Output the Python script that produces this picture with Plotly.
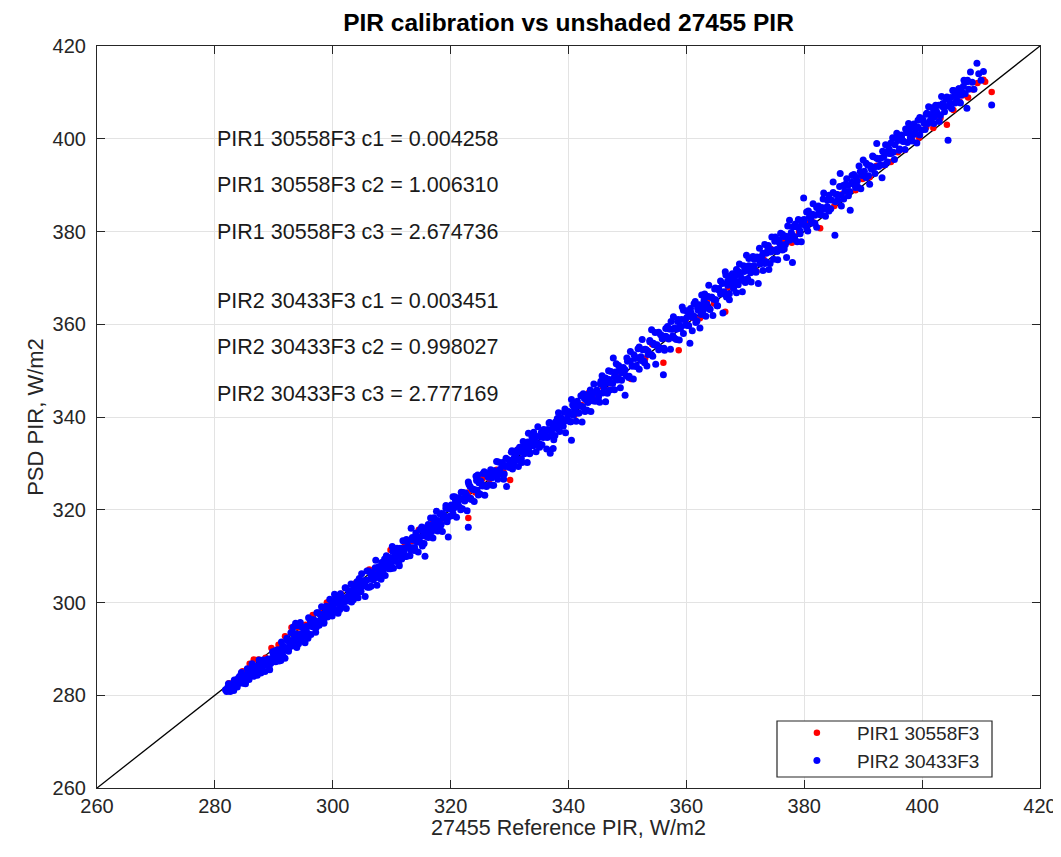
import plotly.graph_objects as go

# ---------------- data ----------------
# PIR2 30433F3 (blue): reference PIR (x) vs PSD PIR (y), W/m2 -- outer spread
pir2_ref = [
    281.8, 282.0, 282.3, 282.5, 282.8, 283.0, 283.3, 283.5, 283.8, 284.0,
    284.3, 284.5, 284.8, 285.0, 285.3, 285.5, 285.8, 286.0, 286.3, 286.5,
    286.8, 287.0, 287.3, 287.5, 287.8, 288.0, 288.3, 288.5, 288.8, 289.0,
    289.3, 289.5, 289.8, 290.0, 290.3,
    290.5, 290.7, 290.9, 291.1, 291.3, 291.5, 291.7, 291.9, 292.1, 292.3,
    292.5, 292.7, 292.9, 293.1, 293.3, 293.5, 293.7, 293.9, 294.1, 294.3,
    294.5, 294.7, 294.9, 295.1, 295.3, 295.5, 295.7, 295.9, 296.1, 296.3,
    296.5, 296.7, 296.9, 297.1, 297.3, 297.5, 297.7, 297.9, 298.1, 298.3,
    298.5, 298.7, 298.9, 299.1, 299.3, 299.5, 299.7, 299.9,
    300.1, 300.3, 300.5, 300.7, 300.9, 301.1, 301.3, 301.5, 301.7, 301.9,
    302.1, 302.3, 302.5, 302.7, 302.9, 303.1, 303.3, 303.5, 303.7, 303.9,
    304.1, 304.3, 304.5, 304.7, 304.9, 305.1, 305.3, 305.5, 305.7, 305.9,
    306.1, 306.3, 306.5, 306.7, 306.9, 307.1, 307.3, 307.5, 307.7, 307.9,
    308.1, 308.3, 308.5, 308.7, 308.9, 309.1, 309.3, 309.5, 309.7, 309.9,
    310.1, 310.3, 310.5, 310.7, 310.9, 311.1, 311.3, 311.5, 311.7, 311.9,
    312.1, 312.3, 312.5, 312.7, 312.9, 313.1, 313.3, 313.5, 313.7, 313.9,
    314.1, 314.3, 314.5, 314.7, 314.9, 315.1, 315.3, 315.5, 315.65, 315.8,
    316.0, 316.2, 316.4, 316.6, 316.8, 317.0, 317.2, 317.4, 317.6, 317.8,
    318.0, 318.2, 318.4, 318.6, 318.8, 319.0, 319.2, 319.4, 319.6, 319.8,
    320.0, 320.2, 320.4, 320.6, 320.8, 321.0, 321.3, 321.5, 321.8, 322.0,
    322.3, 322.5, 322.8, 323.0, 323.3, 323.5, 323.8, 324.0, 324.3, 324.5,
    324.8, 325.0, 325.3, 325.5, 325.8, 326.0, 326.3, 326.5, 326.8, 327.0,
    327.3, 327.5, 327.8, 328.0, 328.3, 328.5, 328.8, 329.0, 329.3, 329.5,
    329.8, 330.0, 330.3, 330.5, 330.8, 331.0, 331.3, 331.5, 331.8, 332.0,
    332.3, 332.5, 332.8, 333.0, 333.3, 333.5, 333.8, 334.0, 334.3, 334.5,
    334.8, 335.0, 335.3, 335.5, 335.8, 336.0, 336.3, 336.5, 336.8, 337.0,
    337.3, 337.5, 337.8, 338.0, 338.3, 338.5, 338.8, 339.0, 339.3, 339.5,
    339.8, 340.0, 340.3, 340.5, 340.8, 341.0, 341.3, 341.5, 341.8, 342.0,
    342.3, 342.5, 342.8, 343.0, 343.3, 343.5, 343.8, 344.0, 344.3, 344.5,
    344.8, 340.5, 336.9, 323.0, 324.6, 323.0, 319.6, 333.2, 337.4,
    345.0, 345.3, 345.5, 345.8, 346.0, 346.3, 346.5, 346.8, 347.0, 347.3,
    347.6, 347.8, 348.0, 348.3, 348.5, 348.8, 349.0, 349.3, 349.6, 349.8,
    350.0, 350.3, 350.5, 350.8, 351.0, 351.3, 351.5, 351.8, 352.0, 352.3,
    352.5, 352.8, 353.0, 353.3, 353.5, 353.8, 354.1, 354.3, 354.5, 354.8,
    355.0, 355.3, 355.5, 355.8, 356.1, 356.3, 356.5, 356.8, 357.0, 357.3,
    357.5, 357.8, 358.0, 358.3, 358.5, 358.8, 359.0, 359.3, 359.5, 359.8,
    360.0, 360.3, 360.6, 360.8, 361.0, 361.3, 361.5, 361.8, 362.0, 362.3,
    362.6, 362.8, 363.0, 363.3, 363.5, 363.8, 364.0, 364.3, 364.5, 364.8,
    365.0, 365.3, 365.5, 365.8, 366.2, 366.4, 366.6, 366.8, 367.0, 367.3,
    367.5, 367.8, 368.0, 368.3, 368.5, 368.8, 369.0, 369.3, 369.5, 369.8,
    370.2, 370.4, 370.6, 370.8, 371.0, 371.3, 371.5, 371.8, 372.0, 372.2,
    372.5, 372.8, 373.0, 373.3, 373.5, 373.8, 374.0, 374.3, 374.5, 374.8,
    375.0, 375.3, 375.5, 375.8, 376.0, 376.3, 376.5, 376.8, 377.0, 377.3,
    377.5, 377.8, 378.0, 378.3, 378.5, 378.8, 379.0, 379.3, 379.5, 379.8,
    379.9,
    380.1, 380.4, 380.6, 380.9, 381.2, 381.5, 381.8, 382.1, 382.4, 382.7,
    383.0, 383.3, 383.6, 383.9, 384.2, 384.5, 384.9, 385.2, 385.4, 385.7,
    386.1, 386.3, 386.6, 386.9, 387.2, 387.5, 387.8, 388.1, 388.4, 388.7,
    389.0, 389.3, 389.6, 390.0, 390.2, 390.5, 390.8, 391.1, 391.4, 391.7,
    392.0, 392.3, 392.6, 392.9, 393.2, 393.5, 393.8, 394.1, 394.4, 394.7,
    395.0, 395.3, 395.7, 395.9, 396.2, 396.5, 396.8, 397.1, 397.4, 397.7,
    398.0, 398.3, 398.6, 399.1, 399.3, 399.6, 399.9, 400.2, 400.5, 400.8,
    401.1, 401.4, 401.7, 402.0, 402.3, 402.6, 402.9, 403.3, 403.5, 403.8,
    404.1, 404.4, 404.7, 405.0, 405.3, 405.6, 405.9, 406.2, 406.5, 406.8,
    407.1, 407.6, 407.6, 407.9, 408.2, 408.5, 408.8, 409.3, 409.6, 410.0,
    410.4, 411.8,
]
pir2_psd = [
    281.2, 280.8, 282.5, 281.0, 282.4, 281.2, 283.3, 282.5, 281.8, 283.7,
    283.0, 284.9, 282.6, 284.2, 283.7, 285.7, 283.4, 284.9, 286.8, 284.6,
    286.3, 284.4, 285.9, 287.6, 284.8, 286.0, 287.5, 285.1, 286.5, 287.8,
    285.5, 286.9, 289.4, 288.2, 287.2,
    288.3, 289.8, 287.4, 289.6, 291.5, 288.7, 290.5, 288.0, 290.1, 291.8,
    289.5, 291.1, 293.5, 290.6, 294.7, 292.7, 295.5, 290.3, 295.0, 292.4,
    295.7, 291.9, 294.6, 293.6, 291.3, 294.8, 293.4, 296.7, 294.9, 293.1,
    296.3, 294.7, 295.9, 293.6, 297.8, 295.9, 295.1, 297.3, 299.1, 296.5,
    295.5, 297.8, 299.2, 296.9, 298.0, 300.7, 299.2, 297.1,
    299.1, 301.8, 298.4, 300.4, 297.7, 299.7, 301.9, 299.0, 300.9, 300.0,
    303.2, 298.7, 301.3, 302.6, 300.6, 304.0, 301.7, 300.6, 303.1, 302.1,
    304.5, 301.0, 303.5, 302.3, 306.2, 304.7, 303.6, 301.3, 304.8, 303.3,
    306.8, 305.0, 303.5, 306.5, 304.9, 306.0, 309.1, 303.7, 306.2, 307.4,
    305.4, 308.6, 306.6, 307.9, 305.8, 310.1, 308.1, 307.3, 309.7, 308.3,
    312.1, 307.4, 309.8, 308.9, 311.7, 310.0, 307.9, 311.2, 309.4, 313.3,
    310.7, 311.8, 309.9, 313.2, 311.9, 310.1, 316.0, 311.8, 313.5, 311.8,
    315.0, 313.0, 310.9, 314.1, 313.0, 316.3, 314.4, 312.7, 310.0, 314.4,
    316.3, 314.0, 315.7, 318.2, 315.3, 313.9, 317.1, 316.4, 319.7, 315.4,
    317.6, 319.1, 316.8, 315.3, 319.0, 318.1, 320.9, 317.4, 320.2, 318.6,
    320.8, 318.7, 322.8, 320.4, 322.1, 318.4, 321.7, 320.6, 323.8, 320.2,
    322.4, 323.6, 319.8, 322.5, 325.0, 322.2, 324.4, 321.8, 327.2, 324.2,
    325.8, 323.4, 325.5, 327.8, 323.1, 325.2, 327.2, 325.4, 328.6, 326.9,
    325.3, 328.0, 330.4, 326.6, 328.6, 327.9, 330.2, 326.6, 329.3, 325.0,
    330.8, 329.1, 332.4, 328.8, 331.2, 330.7, 332.9, 329.3, 332.5, 331.0,
    334.7, 332.1, 334.0, 330.2, 333.4, 332.3, 335.7, 333.8, 335.2, 332.5,
    337.9, 334.3, 335.8, 334.0, 337.3, 335.9, 333.1, 337.3, 338.8, 335.9,
    337.6, 335.1, 338.9, 337.5, 340.9, 336.9, 339.4, 338.2, 341.0, 336.6,
    339.8, 341.2, 339.0, 343.8, 340.4, 341.9, 339.1, 343.4, 340.9, 342.4,
    338.9, 345.0, 341.2, 343.7, 343.1, 345.0, 341.2, 344.2, 347.1, 343.4,
    345.8, 335.0, 332.2, 326.0, 327.5, 316.2, 314.1, 336.5, 333.2,
    345.3, 343.2, 347.7, 345.2, 347.4, 343.3, 347.3, 350.0, 345.8, 347.4,
    352.7, 345.9, 349.7, 348.0, 351.1, 346.3, 349.5, 350.3, 344.7, 348.9,
    352.0, 348.8, 354.1, 351.0, 348.2, 352.6, 351.1, 354.7, 350.3, 353.0,
    356.7, 352.0, 354.6, 351.0, 353.5, 356.2, 358.8, 353.1, 355.6, 351.4,
    355.4, 358.3, 354.9, 357.6, 349.1, 354.4, 357.4, 359.5, 356.8, 354.6,
    358.9, 361.6, 357.0, 358.9, 360.6, 356.6, 359.1, 363.7, 358.0, 361.0,
    362.9, 359.8, 355.9, 362.5, 358.6, 361.7, 364.9, 360.7, 363.0, 359.2,
    366.3, 362.8, 365.2, 361.7, 364.3, 368.4, 363.3, 365.8, 361.9, 367.6,
    365.3, 364.0, 367.4, 369.3, 362.4, 367.0, 371.3, 365.9, 369.3, 365.3,
    368.7, 370.9, 367.7, 369.2, 366.8, 371.4, 373.0, 369.5, 367.0, 371.4,
    374.9, 369.8, 372.6, 371.5, 369.1, 374.6, 372.6, 371.4, 374.5, 368.8,
    373.0, 374.6, 371.6, 377.2, 373.5, 376.0, 371.8, 375.6, 378.8, 374.0,
    377.9, 376.1, 373.9, 377.5, 379.6, 376.0, 378.9, 377.2, 374.4, 378.3,
    382.4, 379.8, 373.3, 378.9, 381.6, 377.8, 380.9, 379.5, 377.8, 382.5,
    387.2,
    381.4, 384.2, 380.1, 383.3, 381.8, 386.0, 383.5, 380.9, 385.5, 383.6,
    385.2, 388.3, 383.3, 385.4, 387.8, 384.9, 390.7, 379.2, 388.0, 386.7,
    392.5, 385.5, 389.9, 388.7, 391.4, 387.7, 384.6, 390.6, 392.3, 389.5,
    390.9, 394.1, 389.2, 395.4, 393.0, 391.6, 394.3, 390.2, 393.4, 396.1,
    392.5, 399.0, 395.6, 394.3, 391.6, 396.1, 398.7, 395.0, 397.8, 396.8,
    400.2, 395.5, 401.2, 399.6, 397.8, 400.8, 399.5, 397.7, 401.3, 403.3,
    400.2, 399.5, 403.2, 399.1, 402.5, 404.6, 401.9, 404.0, 402.0, 405.5,
    406.9, 404.0, 405.3, 403.3, 407.2, 405.5, 403.7, 409.1, 406.9, 405.8,
    408.5, 399.7, 407.7, 406.5, 410.4, 409.5, 408.3, 410.8, 407.7, 410.1,
    412.6, 412.3, 406.6, 410.7, 414.4, 412.2, 410.7, 416.3, 414.0, 412.6,
    414.5, 407.3,
]

# PIR2 30433F3 (blue) -- dense core of the cloud
pir2_ref_core = [
    282.2, 282.6, 282.9, 283.2, 283.6, 283.9, 284.2, 284.6, 284.9, 285.2,
    285.6, 285.9, 286.2, 286.6, 286.9, 287.2, 287.6, 287.9, 288.2, 288.6,
    288.9, 289.2, 289.6, 289.9,
    290.2, 290.5, 290.8, 291.2, 291.5, 291.8, 292.2, 292.5, 292.8, 293.2,
    293.5, 293.8, 294.2, 294.5, 294.8, 295.2, 295.5, 295.8, 296.2, 296.5,
    296.8, 297.2, 297.5, 297.8, 298.2, 298.5, 298.8, 299.2, 299.5, 299.8,
    300.2, 300.5, 300.8, 301.2, 301.5, 301.8, 302.2, 302.5, 302.8, 303.2,
    303.5, 303.8, 304.2, 304.5, 304.8, 305.2, 305.5, 305.8, 306.2, 306.5,
    306.8, 307.2, 307.5, 307.8, 308.2, 308.5, 308.8, 309.2, 309.5, 309.8,
    310.2, 310.5, 310.8, 311.2, 311.5, 311.8, 312.2, 312.5, 312.8, 313.2,
    313.5, 313.8, 314.2, 314.5, 314.8, 315.2, 315.5, 315.8, 316.2, 316.5,
    316.8, 317.2, 317.5, 317.8, 318.2, 318.5, 318.8, 319.2, 319.5, 319.8,
    320.1, 320.4, 320.7, 321.1, 321.4, 321.7, 322.1, 322.4, 322.7, 323.1,
    323.4, 323.7, 324.1, 324.4, 324.7, 325.1, 325.4, 325.7, 326.1, 326.4,
    326.7, 327.1, 327.4, 327.7, 328.1, 328.4, 328.7, 329.1, 329.4, 329.7,
    330.1, 330.4, 330.7, 331.1, 331.4, 331.7, 332.1, 332.4, 332.7, 333.1,
    333.4, 333.7, 334.1, 334.4, 334.7, 335.1, 335.4, 335.7, 336.1, 336.4,
    336.7, 337.1, 337.4, 337.7, 338.1, 338.4, 338.7, 339.1, 339.4, 339.7,
    340.1, 340.4, 340.7, 341.1, 341.4, 341.7, 342.1, 342.4, 342.7, 343.1,
    343.4, 343.7, 344.1, 344.4, 344.7,
    345.1, 345.4, 345.7, 346.0, 346.3, 346.6, 346.9, 347.2, 347.5, 347.8,
    348.1, 348.4, 348.7, 349.0, 349.3, 349.6, 349.9, 350.2, 350.5, 350.8,
    351.1, 351.4, 351.7, 352.0, 352.3, 352.6, 352.9, 353.2, 353.5, 353.8,
    354.1, 354.4, 354.7, 355.0, 355.3, 355.6, 355.9, 356.2, 356.5, 356.8,
    357.1, 357.4, 357.7, 358.0, 358.3, 358.6, 358.9, 359.2, 359.5, 359.8,
    360.1, 360.4, 360.7, 361.0, 361.3, 361.6, 361.9, 362.2, 362.5, 362.8,
    363.1, 363.4, 363.7, 364.0, 364.3, 364.6, 364.9, 365.2, 365.5, 365.8,
    366.1, 366.4, 366.7, 367.0, 367.3, 367.6, 367.9, 368.2, 368.5, 368.8,
    369.1, 369.4, 369.7, 370.0, 370.3, 370.6, 370.9, 371.2, 371.5, 371.8,
    372.1, 372.4, 372.7, 373.0, 373.3, 373.6, 373.9, 374.2, 374.5, 374.8,
    375.1, 375.4, 375.7, 376.0, 376.3, 376.6, 376.9, 377.2, 377.5, 377.8,
    378.1, 378.4, 378.7, 379.0, 379.3, 379.6,
    380.0, 380.4, 380.7, 381.1, 381.4, 381.8, 382.1, 382.5, 382.8, 383.2,
    383.5, 383.9, 384.2, 384.6, 384.9, 385.3, 385.6, 386.0, 386.3, 386.7,
    387.0, 387.4, 387.7, 388.1, 388.4, 388.8, 389.1, 389.5, 389.8, 390.2,
    390.5, 390.9, 391.2, 391.6, 391.9, 392.3, 392.6, 393.0, 393.3, 393.7,
    394.0, 394.4, 394.7, 395.1, 395.4, 395.8, 396.1, 396.5, 396.8, 397.2,
    397.5, 397.9, 398.2, 398.6, 398.9, 399.3, 399.6, 400.0, 400.3, 400.7,
    401.0, 401.4, 401.7, 402.1, 402.4, 402.8, 403.1, 403.5, 403.8, 404.2,
    404.5, 404.9, 405.2, 405.6, 405.9, 406.3, 406.6, 407.0, 407.3, 407.7,
]
pir2_psd_core = [
    281.7, 280.8, 282.0, 281.0, 283.3, 282.4, 284.1, 282.7, 283.6, 282.5,
    284.8, 284.2, 285.6, 284.1, 285.6, 284.3, 286.6, 285.6, 287.6, 286.6,
    287.5, 286.2, 287.9, 289.0,
    289.6, 288.0, 289.3, 287.5, 290.5, 289.8, 292.3, 289.9, 291.8, 293.6,
    291.6, 293.2, 291.1, 293.2, 294.7, 292.8, 294.6, 292.3, 296.0, 295.0,
    296.3, 294.6, 297.8, 296.0, 297.4, 295.8, 299.0, 297.8, 299.0, 300.2,
    298.3, 300.9, 300.0, 298.5, 301.3, 300.5, 303.1, 300.3, 302.3, 300.1,
    303.6, 302.2, 303.5, 305.2, 302.4, 304.2, 303.7, 306.8, 303.3, 306.1,
    305.6, 307.5, 305.4, 307.7, 305.0, 307.9, 309.4, 307.5, 308.6, 307.3,
    311.0, 309.1, 310.5, 308.4, 311.7, 310.7, 309.9, 313.6, 312.1, 311.3,
    314.0, 311.2, 313.8, 313.2, 315.7, 312.2, 315.3, 314.3, 316.8, 314.7,
    316.4, 318.3, 316.1, 317.7, 316.2, 319.2, 318.3, 320.3, 318.2, 320.2,
    321.0, 319.2, 322.8, 321.0, 322.6, 320.0, 323.7, 321.9, 323.2, 325.5,
    322.5, 324.5, 324.3, 326.3, 323.2, 326.2, 325.1, 328.2, 325.0, 327.0,
    328.1, 325.3, 328.4, 327.7, 330.3, 327.7, 329.4, 327.7, 331.1, 329.5,
    330.4, 332.7, 329.7, 332.0, 330.8, 333.5, 330.2, 333.6, 332.8, 334.6,
    332.1, 334.3, 336.7, 334.0, 335.8, 333.5, 336.7, 335.6, 336.9, 335.6,
    338.7, 336.8, 337.9, 336.0, 339.7, 338.4, 339.9, 338.0, 341.7, 339.2,
    340.8, 339.0, 342.6, 341.3, 342.4, 340.8, 344.6, 342.2, 344.0, 341.5,
    344.0, 345.8, 343.5, 345.3, 343.5,
    344.3, 347.1, 348.9, 346.3, 348.4, 345.1, 348.1, 349.8, 347.2, 348.7,
    351.5, 348.4, 350.5, 347.9, 350.7, 350.2, 352.7, 348.5, 352.1, 351.0,
    353.4, 350.9, 352.8, 355.1, 352.2, 354.5, 351.7, 354.5, 354.2, 356.5,
    353.4, 355.9, 358.2, 355.6, 354.5, 357.8, 356.9, 354.8, 359.1, 357.1,
    359.0, 360.6, 357.5, 359.2, 356.7, 361.0, 359.6, 361.0, 363.0, 359.8,
    361.5, 359.7, 363.4, 361.5, 364.4, 360.4, 363.5, 364.2, 362.1, 364.0,
    366.5, 363.5, 366.0, 363.2, 365.8, 365.4, 367.8, 364.0, 367.7, 366.5,
    368.8, 366.5, 370.6, 368.4, 366.6, 370.0, 368.8, 370.2, 371.8, 368.5,
    370.7, 369.9, 372.6, 369.0, 372.4, 374.2, 371.1, 372.5, 374.0, 371.2,
    374.0, 376.4, 373.3, 375.3, 373.1, 375.3, 377.0, 373.1, 376.0, 375.8,
    378.8, 375.7, 378.2, 377.0, 379.4, 376.2, 379.0, 381.2, 378.1, 379.5,
    381.0, 378.3, 381.0, 382.6, 380.1, 381.6,
    382.6, 380.8, 384.4, 382.6, 383.7, 381.8, 385.2, 384.3, 383.7, 387.0,
    384.8, 386.8, 384.4, 386.8, 388.4, 386.4, 388.0, 389.7, 387.8, 387.0,
    390.2, 389.9, 388.6, 392.1, 390.2, 391.7, 389.6, 392.9, 392.1, 392.0,
    394.7, 392.0, 394.2, 396.3, 393.9, 395.8, 394.0, 395.8, 397.3, 394.4,
    397.2, 396.8, 399.1, 397.1, 398.7, 399.9, 397.5, 400.3, 399.4, 402.1,
    399.2, 401.4, 402.5, 400.9, 401.9, 404.0, 400.8, 404.3, 403.4, 405.3,
    403.3, 405.2, 406.7, 404.7, 406.0, 407.2, 405.0, 407.6, 407.0, 409.0,
    407.0, 408.9, 410.4, 407.7, 409.6, 410.8, 409.4, 411.3, 409.7, 412.6,
]

# PIR1 30558F3 (red)
pir1_ref = [
    282.4, 283.6, 284.7, 285.9, 286.6, 287.4, 288.6, 289.6, 290.8, 291.9,
    293.0, 294.2, 295.4, 296.6, 297.8, 299.0, 300.2, 301.4, 302.6, 303.8,
    305.0, 306.2, 307.4, 308.6, 309.8, 311.0, 312.2, 313.4, 314.6, 315.8,
    317.0, 318.2, 319.4, 320.6, 323.0, 323.0, 324.2, 325.4, 326.6, 327.8,
    329.0, 330.2, 331.4, 332.6, 333.8, 335.0, 336.2, 337.4, 330.1, 339.8,
    341.0, 342.2, 343.4, 344.6, 345.8, 347.0, 348.2, 349.4, 350.6, 351.8,
    353.0, 354.2, 356.1, 356.6, 357.8, 358.7, 359.9, 361.1, 362.3, 363.5,
    364.7, 366.6, 367.1, 368.3, 369.5, 370.7, 371.9, 373.1, 374.3, 375.5,
    376.7, 377.9, 379.1, 380.3, 381.5, 382.7, 383.9, 385.1, 386.3, 387.5,
    388.7, 389.9, 391.1, 392.3, 393.5, 394.7, 395.9, 397.1, 398.3, 399.5,
    400.7, 401.9, 403.1, 404.2, 405.3, 406.4, 407.0, 407.8, 408.6, 409.4,
    410.4, 410.7, 411.8,
]
pir1_psd = [
    282.6, 283.3, 285.2, 286.8, 287.7, 287.7, 288.1, 290.2, 290.9, 292.7,
    294.6, 294.6, 295.2, 297.3, 297.8, 300.0, 299.6, 301.9, 301.4, 304.1,
    304.2, 307.1, 307.0, 308.8, 311.3, 310.1, 312.8, 313.2, 315.7, 314.3,
    317.4, 317.5, 320.3, 320.7, 318.2, 323.7, 323.7, 326.7, 326.6, 328.6,
    328.1, 330.7, 333.0, 332.3, 334.4, 333.6, 337.1, 337.6, 326.4, 340.8,
    340.4, 342.6, 345.2, 344.4, 346.5, 345.9, 349.4, 349.5, 348.2, 352.7,
    352.6, 355.7, 351.7, 357.2, 357.2, 354.4, 361.0, 361.4, 361.3, 365.2,
    364.5, 362.7, 367.9, 370.5, 369.5, 372.1, 371.4, 374.0, 376.3, 375.9,
    378.0, 377.6, 379.9, 381.9, 382.0, 380.7, 385.0, 385.5, 388.0, 388.4,
    388.9, 391.3, 391.7, 394.2, 394.3, 395.0, 397.1, 397.6, 399.8, 400.2,
    402.5, 402.3, 404.4, 403.0, 406.2, 408.0, 409.4, 408.9, 410.6, 412.0,
    412.7, 412.3, 410.1,
]

# 1:1 reference line
one_to_one = [260, 420]

# calibration coefficient texts
coef_labels = [
    "PIR1 30558F3 c1 = 0.004258",
    "PIR1 30558F3 c2 = 1.006310",
    "PIR1 30558F3 c3 = 2.674736",
    "PIR2 30433F3 c1 = 0.003451",
    "PIR2 30433F3 c2 = 0.998027",
    "PIR2 30433F3 c3 = 2.777169",
]
coef_y = [400, 390, 380, 365, 355, 345]
coef_x = 280

axis_ticks = [260, 280, 300, 320, 340, 360, 380, 400, 420]

assert len(pir2_ref) == len(pir2_psd), (len(pir2_ref), len(pir2_psd))
assert len(pir2_ref_core) == len(pir2_psd_core), (len(pir2_ref_core), len(pir2_psd_core))
assert len(pir1_ref) == len(pir1_psd), (len(pir1_ref), len(pir1_psd))

# ---------------- figure ----------------
FONT = "Helvetica, Arial, 'Liberation Sans', sans-serif"
AX = "#262626"

fig = go.Figure()
fig.add_trace(go.Scatter(x=one_to_one, y=one_to_one, mode="lines",
                         line=dict(color="black", width=1.3),
                         showlegend=False, hoverinfo="skip"))
fig.add_trace(go.Scatter(x=pir1_ref, y=pir1_psd, mode="markers",
                         name="PIR1 30558F3",
                         marker=dict(color="#ff0000", size=6.5, line=dict(width=0))))
fig.add_trace(go.Scatter(x=pir2_ref + pir2_ref_core, y=pir2_psd + pir2_psd_core,
                         mode="markers", name="PIR2 30433F3",
                         marker=dict(color="#0000ff", size=7, line=dict(width=0))))

for txt, yy in zip(coef_labels, coef_y):
    fig.add_annotation(x=coef_x, y=yy, xref="x", yref="y", text=txt,
                       showarrow=False, xanchor="left", yanchor="middle",
                       font=dict(family=FONT, size=21.5, color="#1a1a1a"))

# x-axis title placed as a paper annotation just below the tick labels
fig.add_annotation(x=0.5, y=-0.0545, xref="paper", yref="paper",
                   text="27455 Reference PIR, W/m2", showarrow=False,
                   xanchor="center", yanchor="middle",
                   font=dict(family=FONT, size=21.5, color=AX))

# legend frame (white box with dark border) behind the legend entries
fig.add_shape(type="rect", xref="paper", yref="paper",
              x0=0.7211, x1=0.9491, y0=0.0148, y1=0.0903,
              line=dict(color=AX, width=1.2), fillcolor="white", layer="above")

axis_common = dict(
    range=[260, 420], tickvals=axis_ticks, ticks="inside", ticklen=8,
    tickwidth=1, tickcolor=AX, showline=True, linecolor=AX, linewidth=1.2,
    mirror="allticks", showgrid=True, gridcolor="#e3e3e3", gridwidth=1,
    zeroline=False, tickfont=dict(family=FONT, size=20, color=AX),
)

# the page body adds an 8 px offset, so the margins are shifted to match
fig.update_layout(
    width=1061, height=857,
    margin=dict(l=89, r=29, t=38, b=77, autoexpand=False),
    paper_bgcolor="white", plot_bgcolor="white",
    font=dict(family=FONT, color=AX),
    title=dict(text="<b>PIR calibration vs unshaded 27455 PIR</b>",
               x=0.5, xref="paper", xanchor="center",
               y=1 - 14 / 857, yref="container", yanchor="middle",
               font=dict(family=FONT, size=24.5, color="black")),
    xaxis=dict(axis_common, ticklabelstandoff=0),
    yaxis=dict(axis_common, ticklabelstandoff=6,
               title=dict(text="PSD PIR, W/m2",
                          font=dict(family=FONT, size=22, color=AX),
                          standoff=2)),
    legend=dict(x=0.721, y=0.0997, xanchor="left", yanchor="top",
                bgcolor="rgba(0,0,0,0)", borderwidth=0,
                font=dict(family=FONT, size=19, color=AX),
                itemwidth=70, tracegroupgap=0),
    showlegend=True,
)

fig.write_html("out.html")
